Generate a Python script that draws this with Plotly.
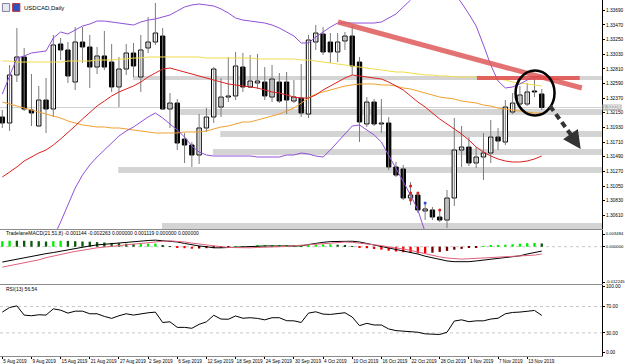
import plotly.graph_objects as go
import pandas as pd

# ---------------- data ----------------
dates = pd.bdate_range("2019-08-05", periods=75)

opens = [1.32087,1.31997,1.32718,1.32989,1.32192,1.31952,1.32342,1.32207,1.33184,1.33094,
         1.32613,1.33214,1.33139,1.32838,1.33004,1.32913,1.32538,1.32808,1.33049,1.32688,
         1.33124,1.33214,1.33304,1.32207,1.32297,1.31756,1.31666,1.31516,1.31922,1.32087,
         1.32237,1.32387,1.32403,1.32838,1.32538,1.32598,1.32613,1.32387,1.32613,1.32613,
         1.32327,1.32372,1.32132,1.33214,1.33334,1.33214,1.33064,1.33229,1.33304,1.32913,
         1.31982,1.32312,1.31982,1.31997,1.31336,1.31306,1.30870,1.30915,1.30675,1.30690,
         1.30584,1.30539,1.30870,1.31591,1.31636,1.31396,1.31486,1.31546,1.31786,1.31711,
         1.32162,1.32282,1.32282,1.32478,1.32433]
highs = [1.32192,1.32868,1.33424,1.33124,1.32733,1.32553,1.32673,1.33319,1.33274,1.33214,
         1.33439,1.33439,1.33319,1.33139,1.33379,1.33184,1.32989,1.33184,1.33199,1.33319,
         1.33590,1.33800,1.33424,1.32448,1.32357,1.31847,1.31711,1.32132,1.32222,1.32838,
         1.32673,1.32989,1.33064,1.33049,1.33019,1.33034,1.32838,1.32868,1.32748,1.32763,
         1.32643,1.32883,1.33319,1.33469,1.33439,1.33349,1.33349,1.33364,1.33469,1.32989,
         1.32387,1.32357,1.32357,1.32087,1.31411,1.31366,1.31110,1.30960,1.30810,1.30735,
         1.30690,1.30990,1.32072,1.31952,1.31786,1.31636,1.31847,1.32042,1.31922,1.32342,
         1.32448,1.32553,1.32598,1.32673,1.32508]
lows = [1.31922,1.31877,1.32613,1.32177,1.31952,1.31937,1.31847,1.32087,1.32943,1.32598,
        1.32493,1.32898,1.32523,1.32733,1.32793,1.32463,1.32237,1.32718,1.32688,1.32463,
        1.33049,1.33169,1.32192,1.31922,1.31591,1.31396,1.31336,1.31381,1.31862,1.31997,
        1.32087,1.32312,1.32342,1.32463,1.32523,1.32508,1.32342,1.32312,1.32297,1.32132,
        1.32297,1.32087,1.32072,1.33094,1.33019,1.32898,1.32913,1.33094,1.32718,1.31711,
        1.31937,1.31952,1.31847,1.31291,1.31185,1.30840,1.30765,1.30644,1.30539,1.30539,
        1.30509,1.30419,1.30750,1.31336,1.31351,1.31321,1.31140,1.31396,1.31591,1.31666,
        1.32132,1.32252,1.32252,1.32387,1.32192]
closes = [1.31997,1.32718,1.32989,1.32207,1.32147,1.32342,1.32207,1.33169,1.33094,1.32703,
          1.33214,1.33139,1.32838,1.33004,1.32838,1.32538,1.32808,1.33049,1.32853,1.33094,
          1.33214,1.33349,1.32207,1.32297,1.31696,1.31666,1.31516,1.31922,1.32087,1.32808,
          1.32387,1.32403,1.32853,1.32538,1.32628,1.32628,1.32403,1.32658,1.32327,1.32342,
          1.32387,1.32147,1.33244,1.33349,1.33064,1.33064,1.33214,1.33304,1.32853,1.32012,
          1.32312,1.31982,1.31997,1.31336,1.31215,1.30870,1.30915,1.30690,1.30705,1.30584,
          1.30539,1.30870,1.31591,1.31636,1.31396,1.31486,1.31546,1.31786,1.31726,1.32237,
          1.32297,1.32418,1.32463,1.32463,1.32229]

ma_red = [1.31185,1.31261,1.31336,1.31426,1.31486,1.31546,1.31591,1.31666,1.31756,1.31847,
          1.31952,1.32057,1.32162,1.32252,1.32327,1.32403,1.32463,1.32508,1.32553,1.32613,
          1.32688,1.32748,1.32808,1.32823,1.32793,1.32763,1.32733,1.32703,1.32673,1.32643,
          1.32613,1.32583,1.32568,1.32553,1.32538,1.32523,1.32493,1.32463,1.32448,1.32418,
          1.32387,1.32372,1.32372,1.32418,1.32493,1.32553,1.32613,1.32673,1.32718,1.32703,
          1.32688,1.32673,1.32658,1.32613,1.32553,1.32493,1.32403,1.32312,1.32237,1.32147,
          1.32057,1.31982,1.31907,1.31831,1.31741,1.31636,1.31561,1.31501,1.31456,1.31426,
          1.31411,1.31411,1.31426,1.31456,1.31501]
ma_orange = [1.32312,1.32282,1.32252,1.32222,1.32192,1.32162,1.32132,1.32102,1.32072,1.32027,
             1.31997,1.31967,1.31952,1.31937,1.31937,1.31922,1.31922,1.31907,1.31892,1.31877,
             1.31862,1.31847,1.31847,1.31847,1.31847,1.31862,1.31862,1.31862,1.31877,1.31907,
             1.31937,1.31952,1.31982,1.32012,1.32012,1.32042,1.32072,1.32102,1.32132,1.32177,
             1.32222,1.32297,1.32372,1.32433,1.32463,1.32493,1.32523,1.32553,1.32568,1.32583,
             1.32583,1.32583,1.32568,1.32568,1.32553,1.32523,1.32508,1.32478,1.32448,1.32418,
             1.32387,1.32372,1.32357,1.32327,1.32312,1.32297,1.32267,1.32252,1.32222,1.32207,
             1.32192,1.32177,1.32162,1.32147,1.32147]
ma_yellow = [1.32928,1.32928,1.32913,1.32913,1.32913,1.32913,1.32913,1.32913,1.32913,1.32928,
             1.32928,1.32928,1.32928,1.32943,1.32943,1.32943,1.32958,1.32958,1.32973,1.32973,
             1.32989,1.32989,1.32989,1.32989,1.32989,1.32989,1.32989,1.32989,1.32973,1.32973,
             1.32973,1.32973,1.32973,1.32973,1.32973,1.32958,1.32958,1.32958,1.32958,1.32958,
             1.32958,1.32943,1.32943,1.32928,1.32913,1.32898,1.32883,1.32868,1.32853,1.32838,
             1.32823,1.32808,1.32793,1.32778,1.32763,1.32763,1.32748,1.32733,1.32718,1.32718,
             1.32703,1.32703,1.32688,1.32688,1.32688,1.32688,1.32673,1.32673,1.32658,1.32643,
             1.32613,1.32598,1.32583,1.32568,1.32553]
bb_upper = [1.32433,1.32718,1.32973,1.33004,1.33049,1.33064,1.33079,1.33274,1.33364,1.33334,
            1.33394,1.33454,1.33484,1.33529,1.33529,1.33514,1.33499,1.33484,1.33469,1.33514,
            1.33544,1.33560,1.33590,1.33620,1.33680,1.33740,1.33770,1.33785,1.33770,1.33755,
            1.33710,1.33650,1.33575,1.33544,1.33529,1.33514,1.33499,1.33469,1.33424,1.33364,
            1.33304,1.33199,1.33199,1.33289,1.33364,1.33439,1.33499,1.33499,1.33499,1.33499,
            1.33499,1.33499,1.33514,1.33575,1.33635,1.33740,1.33845,1.33995,1.34146,1.34221,
            1.34221,1.34115,1.33965,1.33800,1.33635,1.33454,1.33169,1.32868,1.32628,1.32523,
            1.32538,1.32583,1.32643,1.32688,1.32718]
bb_lower = [1.28886,1.29112,1.29337,1.29518,1.29713,1.29908,1.30089,1.30269,1.30509,1.30765,
            1.31020,1.31215,1.31366,1.31486,1.31591,1.31711,1.31801,1.31877,1.31937,1.32012,
            1.32087,1.32147,1.32072,1.31982,1.31892,1.31786,1.31651,1.31561,1.31516,1.31501,
            1.31501,1.31501,1.31501,1.31501,1.31501,1.31486,1.31486,1.31486,1.31486,1.31516,
            1.31516,1.31546,1.31531,1.31501,1.31486,1.31591,1.31711,1.31847,1.31952,1.31967,
            1.31892,1.31817,1.31711,1.31516,1.31321,1.31110,1.30915,1.30690,1.30359,1.30119,
            1.29968,1.29863,1.29788,1.29758,1.29758,1.29788,1.29818,1.29863,1.29908,1.29938,
            1.29968,1.29998,1.30028,1.30058,1.30089]

marker_red_x = [56, 56, 56, 57, 60]
marker_red_y = [1.31050, 1.30945, 1.30840, 1.30945, 1.30690]
marker_blue_x = [58]
marker_blue_y = [1.30795]

macd_main = [-0.0042,-0.0038,-0.0034,-0.0030,-0.0025,-0.0022,-0.0019,-0.0016,-0.0012,-0.0009,
             -0.0006,-0.0002,0.0002,0.0005,0.0007,0.0009,0.0010,0.0012,0.0013,0.0015,
             0.0017,0.0018,0.0017,0.0016,0.0013,0.0009,0.0005,0.0002,0.0000,-0.0003,
             -0.0003,-0.0002,0.0000,0.0001,0.0002,0.0002,0.0002,0.0002,0.0002,0.0002,
             0.0002,0.0002,0.0006,0.0010,0.0012,0.0014,0.0015,0.0016,0.0015,0.0013,
             0.0009,0.0005,0.0001,-0.0004,-0.0007,-0.0010,-0.0015,-0.0020,-0.0026,-0.0031,
             -0.0035,-0.0039,-0.0041,-0.0042,-0.0041,-0.0039,-0.0037,-0.0034,-0.0033,-0.0031,
             -0.0028,-0.0025,-0.0020,-0.0015,-0.0012]
macd_signal = [-0.0056,-0.0052,-0.0047,-0.0044,-0.0041,-0.0036,-0.0030,-0.0025,-0.0021,-0.0017,
               -0.0013,-0.0009,-0.0006,-0.0003,-0.0001,0.0001,0.0003,0.0006,0.0009,0.0011,
               0.0013,0.0014,0.0015,0.0016,0.0015,0.0013,0.0010,0.0007,0.0004,0.0002,
               0.0000,-0.0002,-0.0003,-0.0004,-0.0003,-0.0002,-0.0002,-0.0001,0.0000,0.0001,
               0.0003,0.0005,0.0006,0.0007,0.0008,0.0010,0.0012,0.0013,0.0012,0.0010,
               0.0008,0.0006,0.0003,-0.0001,-0.0003,-0.0006,-0.0010,-0.0015,-0.0020,-0.0025,
               -0.0028,-0.0031,-0.0033,-0.0034,-0.0033,-0.0032,-0.0032,-0.0031,-0.0030,-0.0028,
               -0.0027,-0.0025,-0.0024,-0.0023,-0.0020]
macd_hist = [0.00151,0.00164,0.00164,0.00164,0.00159,0.00151,0.00142,0.00151,0.00164,0.00159,
             0.00151,0.00142,0.00137,0.00126,0.00115,0.00104,0.00096,0.00082,0.00071,0.00077,
             0.00082,0.00085,0.00027,0.00005,-0.00022,-0.00041,-0.00055,-0.00049,-0.00041,-0.00033,
             -0.00022,-0.00011,0.00008,0.00014,0.00019,0.00022,0.00025,0.00027,0.00030,0.00033,
             0.00036,0.00041,0.00049,0.00055,0.00060,0.00066,0.00055,0.00044,0.00016,-0.00022,
             -0.00041,-0.00063,-0.00082,-0.00110,-0.00132,-0.00151,-0.00170,-0.00181,-0.00186,-0.00164,
             -0.00142,-0.00115,-0.00082,-0.00060,-0.00033,-0.00014,0.00016,0.00027,0.00041,0.00055,
             0.00069,0.00082,0.00096,0.00104,0.00088]
rsi = [61.5,68.5,71,57,56,57.5,57,66.5,64.5,60,
       63,63,59,59,55,52,56,59,57,59,
       60.5,61.5,45.8,46.8,38.4,38.4,37,43,46.8,56.7,
       51,50.7,55.7,52.2,53,52,49.8,53,53,48.5,
       48.3,45.8,60,62,58.5,58,59.5,60.6,54,41,
       44.5,42,42,36,33.5,32.5,31,31,28.6,27.6,
       27.6,31,48,49.8,47,48.3,48.3,51,52.2,59,
       61,61.6,63,64,56.5]

price_ticks = [1.30610,1.30830,1.31050,1.31270,1.31490,1.31710,1.31930,1.32150,
               1.32370,1.32590,1.32810,1.33030,1.33250,1.33470,1.33690]
macd_tick_text = ["0.003484", "0.000000", "-0.012245"]
rsi_ticks = [100, 70, 30, 0]
bid_price = 1.32229

# support / resistance zones: start bar, low, high
zone_start = [17.9, 24.4, 29.9, 28.9, 15.9, 21.9]
zone_low = [1.32643, 1.32117, 1.31786, 1.31516, 1.31245, 1.30404]
zone_high = [1.32703, 1.32207, 1.31877, 1.31606, 1.31336, 1.30494]

# hand-drawn objects (bar index, price)
trend_line = [(46.05, 1.33514), (79.5, 1.32523)]
resist_line = [(65.1, 1.32673), (79.2, 1.32673)]
ellipse_box = [(70.4, 1.32109), (75.75, 1.32786)]
arrow_line = [(75.13, 1.32252), (78.2, 1.31790)]
arrow_tip = (79.34, 1.31606)

# ---------------- figure ----------------
n = len(closes)
idx = list(range(n))
FONT = "Liberation Sans"

fig = go.Figure()

# wicks
wx, wy = [], []
for i in idx:
    wx += [i, i, None]
    wy += [lows[i], highs[i], None]
fig.add_trace(go.Scatter(x=wx, y=wy, mode="lines", line=dict(color="#7a7a7a", width=1),
                         hoverinfo="skip", xaxis="x", yaxis="y"))

# moving averages and bands
for arr, col in [(ma_yellow, "#f0dc50"), (ma_orange, "#f0a030"), (ma_red, "#dc2020"),
                 (bb_upper, "#9150d8"), (bb_lower, "#9150d8")]:
    fig.add_trace(go.Scatter(x=idx, y=arr, mode="lines", line=dict(color=col, width=1),
                             xaxis="x", yaxis="y"))

# candle bodies
body_base = [min(o, c) for o, c in zip(opens, closes)]
body_h = [max(abs(c - o), 0.00003) for o, c in zip(opens, closes)]
body_col = ["white" if c >= o else "black" for o, c in zip(opens, closes)]
fig.add_trace(go.Bar(x=idx, y=body_h, base=body_base, width=0.6,
                     marker=dict(color=body_col, line=dict(color="black", width=1)),
                     xaxis="x", yaxis="y"))

fig.add_trace(go.Scatter(x=marker_red_x, y=marker_red_y, mode="markers",
                         marker=dict(color="#d02020", size=3), xaxis="x", yaxis="y"))
fig.add_trace(go.Scatter(x=marker_blue_x, y=marker_blue_y, mode="markers",
                         marker=dict(color="#2050d0", size=3), xaxis="x", yaxis="y"))

# MACD histogram
hcol = []
prev = 0.0
for h in macd_hist:
    if h >= 0:
        hcol.append("#00ee00" if h > prev else "#0a5a0a")
    else:
        hcol.append("#ff0000" if h < prev else "#7a0000")
    prev = h
fig.add_trace(go.Bar(x=idx, y=macd_hist, width=0.32, marker=dict(color=hcol, line=dict(width=0)),
                     xaxis="x2", yaxis="y2"))
fig.add_trace(go.Scatter(x=idx, y=macd_main, mode="lines", line=dict(color="black", width=1),
                         xaxis="x2", yaxis="y2"))
fig.add_trace(go.Scatter(x=idx, y=macd_signal, mode="lines", line=dict(color="#e0607a", width=1),
                         xaxis="x2", yaxis="y2"))

# RSI
fig.add_trace(go.Scatter(x=idx, y=rsi, mode="lines", line=dict(color="black", width=1),
                         xaxis="x3", yaxis="y3"))

shapes = []
for s, lo, hi in zip(zone_start, zone_low, zone_high):
    shapes.append(dict(type="rect", xref="x", yref="y", x0=s, x1=83, y0=lo, y1=hi,
                       fillcolor="#d4d4d4", line=dict(width=0), layer="below"))
shapes.append(dict(type="line", xref="paper", yref="y", x0=0, x1=1, y0=bid_price, y1=bid_price,
                   line=dict(color="#d0d0d0", width=1), layer="below"))
shapes.append(dict(type="line", xref="x", yref="y", x0=trend_line[0][0], y0=trend_line[0][1],
                   x1=trend_line[1][0], y1=trend_line[1][1],
                   line=dict(color="rgba(222,90,90,0.85)", width=5)))
shapes.append(dict(type="line", xref="x", yref="y", x0=resist_line[0][0], y0=resist_line[0][1],
                   x1=resist_line[1][0], y1=resist_line[1][1],
                   line=dict(color="rgba(226,70,70,0.8)", width=4)))
shapes.append(dict(type="circle", xref="x", yref="y", x0=ellipse_box[0][0], y0=ellipse_box[0][1],
                   x1=ellipse_box[1][0], y1=ellipse_box[1][1], line=dict(color="black", width=2.5)))
shapes.append(dict(type="line", xref="x", yref="y", x0=arrow_line[0][0], y0=arrow_line[0][1],
                   x1=arrow_line[1][0], y1=arrow_line[1][1],
                   line=dict(color="#333333", width=4, dash="6px,4px")))
shapes.append(dict(type="line", xref="paper", yref="y2", x0=0, x1=1, y0=0, y1=0,
                   line=dict(color="#c8c8c8", width=1, dash="dot"), layer="below"))
for lv in (70, 30):
    shapes.append(dict(type="line", xref="paper", yref="y3", x0=0, x1=1, y0=lv, y1=lv,
                       line=dict(color="#c8c8c8", width=1, dash="dot"), layer="below"))
# window icons
shapes.append(dict(type="rect", xref="paper", yref="paper", x0=0.004, x1=0.016, y0=0.968, y1=0.99,
                   fillcolor="#e8e8f0", line=dict(color="#8080a0", width=1)))
shapes.append(dict(type="rect", xref="paper", yref="paper", x0=0.021, x1=0.033, y0=0.968, y1=0.99,
                   fillcolor="#3050c0", line=dict(color="#c03030", width=1)))

annotations = [
    dict(x=arrow_tip[0], y=arrow_tip[1], xref="x", yref="y", ax=-9, ay=-13, showarrow=True,
         arrowhead=2, arrowsize=0.9, arrowwidth=4, arrowcolor="#333333", text=""),
    dict(x=0.037, y=0.978, xref="paper", yref="paper", text="USDCAD,Daily", showarrow=False,
         xanchor="left", yanchor="middle", font=dict(size=6, color="black", family=FONT)),
    dict(x=0.006, y=0.3455, xref="paper", yref="paper",
         text="TradelaneMACD(21,51,8) -0.001144 -0.002263 0.000000 0.001119 0.000000 0.000000",
         showarrow=False, xanchor="left", yanchor="middle",
         font=dict(size=5, color="black", family=FONT)),
    dict(x=0.006, y=0.188, xref="paper", yref="paper", text="RSI(13) 56.54", showarrow=False,
         xanchor="left", yanchor="middle", font=dict(size=5, color="black", family=FONT)),
    dict(x=1.0, y=bid_price, xref="paper", yref="y", text=f"{bid_price:.5f}", showarrow=False,
         xanchor="left", yanchor="middle", bgcolor="#b8b8b8", borderpad=0,
         font=dict(size=4.8, color="white", family=FONT)),
]

tick_idx = idx[::4]
tick_txt = [f"{d.day} {d:%b %Y}" for d in dates[::4]]

xr = [-0.315, 82.26]
common_x = dict(range=xr, showgrid=False, zeroline=False, showline=True, linecolor="#8c8c8c",
                linewidth=1, automargin=False)
common_y = dict(side="right", showgrid=False, zeroline=False, showline=True, linecolor="black",
                linewidth=1, mirror=True, ticks="outside", ticklen=2, tickcolor="black",
                automargin=False)

fig.update_layout(
    width=625, height=364, margin=dict(l=0, r=23, t=0, b=8),
    paper_bgcolor="white", plot_bgcolor="white", showlegend=False, barmode="overlay",
    hovermode=False,
    xaxis=dict(**common_x, anchor="y", showticklabels=False),
    xaxis2=dict(**common_x, anchor="y2", matches="x", showticklabels=False),
    xaxis3=dict(**common_x, anchor="y3", matches="x", tickvals=tick_idx, ticktext=tick_txt,
                tickangle=0, ticks="outside", ticklen=2, tickcolor="black",
                ticklabelposition="outside right",
                tickfont=dict(size=4.6, color="black", family=FONT)),
    yaxis=dict(**common_y, domain=[0.3567, 1.0], range=[1.30404, 1.33845], anchor="x",
               tickvals=price_ticks, ticktext=[f"{v:.5f}" for v in price_ticks],
               tickfont=dict(size=4.8, color="black", family=FONT)),
    yaxis2=dict(**common_y, domain=[0.2022, 0.3539], range=[-0.01022, 0.004576], anchor="x2",
                tickvals=[0.003484, 0.0, -0.00967], ticktext=macd_tick_text,
                tickfont=dict(size=4.2, color="black", family=FONT)),
    yaxis3=dict(**common_y, domain=[0.0, 0.1994], range=[-5, 102.6], anchor="x3",
                tickvals=rsi_ticks, ticktext=[f"{v:.2f}" for v in rsi_ticks],
                tickfont=dict(size=4.8, color="black", family=FONT)),
    shapes=shapes, annotations=annotations,
)

fig.write_html("out.html")
